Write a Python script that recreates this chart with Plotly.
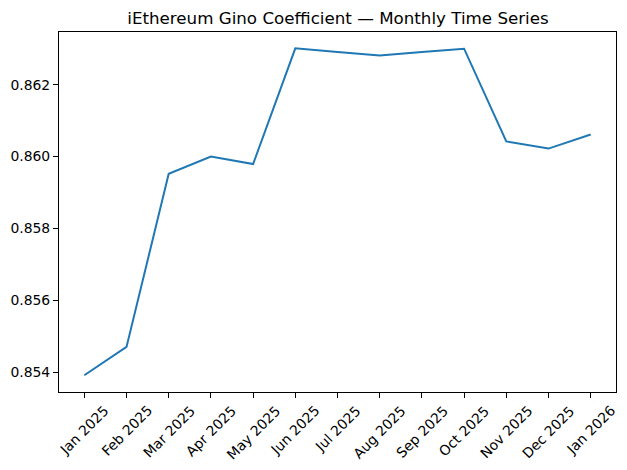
import plotly.graph_objects as go

months = ["Jan 2025", "Feb 2025", "Mar 2025", "Apr 2025", "May 2025", "Jun 2025",
          "Jul 2025", "Aug 2025", "Sep 2025", "Oct 2025", "Nov 2025", "Dec 2025", "Jan 2026"]
gini = [0.85391, 0.85470, 0.85952, 0.86000, 0.85979, 0.86301,
        0.86291, 0.86281, 0.86291, 0.86300, 0.86042, 0.86022, 0.86061]
y_ticks = [0.854, 0.856, 0.858, 0.860, 0.862]

font = "DejaVu Sans"
W, H = 619, 462  # page body has an 8px default margin

fig = go.Figure()
fig.add_trace(go.Scatter(x=months, y=gini, mode="lines",
                         line=dict(color="#1f77b4", width=2)))

for m in months:
    fig.add_annotation(x=m, xref="x", y=0, yref="paper", text=m, showarrow=False,
                       textangle=-45, xanchor="center", yanchor="top", yshift=-8,
                       font=dict(family=font, size=13.9, color="black"))

fig.update_layout(
    width=W, height=H,
    margin=dict(l=51, r=11, t=24, b=78, autoexpand=False),
    plot_bgcolor="white", paper_bgcolor="white",
    showlegend=False,
    title=dict(text="iEthereum Gino Coefficient — Monthly Time Series",
               x=330 / W, xanchor="center", y=1 - 10.5 / H, yanchor="middle",
               font=dict(family=font, size=16.7, color="black")),
    font=dict(family=font, size=13.9, color="black"),
)
fig.update_xaxes(type="category", range=[-0.6, 12.6], showticklabels=False,
                 ticks="outside", ticklen=5, tickwidth=1, tickcolor="black",
                 showline=True, linecolor="black", linewidth=1, mirror=True,
                 showgrid=False, zeroline=False, automargin=False)
fig.update_yaxes(range=[0.853445, 0.863465], tickvals=y_ticks,
                 ticktext=[f"{v:.3f}" for v in y_ticks],
                 ticks="outside", ticklen=5, tickwidth=1, tickcolor="black",
                 showline=True, linecolor="black", linewidth=1, mirror=True,
                 showgrid=False, zeroline=False, automargin=False,
                 tickfont=dict(family=font, size=13.9, color="black"))

fig.write_html("out.html")
